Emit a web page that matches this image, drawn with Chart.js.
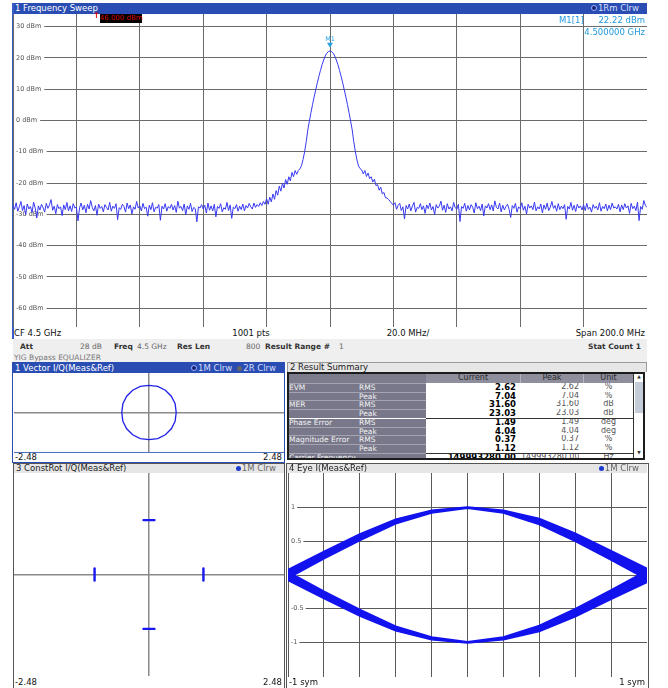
<!DOCTYPE html>
<html>
<head>
<meta charset="utf-8">
<script src="https://cdn.jsdelivr.net/npm/chart.js@4.4.1/dist/chart.umd.min.js"></script>
<style>
body { margin:0; width:668px; height:688px; background:#fff; font-family:"DejaVu Sans", Verdana, sans-serif; position:relative; overflow:hidden; }
.abs { position:absolute; }
.txt { position:absolute; white-space:nowrap; line-height:1; font-size:8.5px; color:#111; }
.b { font-weight:bold; color:#333; font-size:7.5px !important; }
.g { color:#666; font-size:7.5px !important; }
.hdr { position:absolute; height:10px; font-size:8.5px; line-height:10px; white-space:nowrap; overflow:hidden; }
.hdr.blue { background:#2a4db3; color:#fff; }
.hdr.grey { background:#e6e6e6; color:#222; }
.hdr .l { position:absolute; left:2px; top:0; }
.hdr .r { position:absolute; right:8px; top:0; }
.hdr.blue .r { color:#d6defa; }
.hdr.grey .r { color:#666; }
.dot { display:inline-block; width:5px; height:5px; border-radius:50%; margin:0 1px 0 5px; vertical-align:0; }
.dot.nav { background:#16226e; border:1px solid #9fb0ff; width:4px; height:4px; }
.dot.gr { background:#666; }
.dot.bl { background:#1a3ad0; }
canvas { position:absolute; }
.cell { position:absolute; white-space:nowrap; overflow:hidden; font-size:7.5px; line-height:8.75px; }
</style>
</head>
<body>

<!-- panel 1: frequency sweep -->
<div class="hdr blue" style="left:13px;top:3px;width:634px;height:11px;line-height:11px;">
  <span class="l">1 Frequency Sweep</span>
  <span class="r"><span class="dot nav"></span>1Rm Clrw</span>
</div>
<div class="abs" style="left:12px;top:3px;width:1.5px;height:336px;background:#3a5cc6;"></div>
<canvas id="specChart" width="634" height="313" style="left:13px;top:14px;"></canvas>

<div class="txt" style="left:93px;top:12px;color:#e00000;font-weight:bold;font-size:8px;">&#8593;</div>
<div class="abs" style="left:100px;top:14px;width:42px;height:8.5px;background:#000;color:#e00000;font-size:7px;line-height:8.5px;text-align:center;white-space:nowrap;">46.000 dBm</div>

<div class="txt" style="left:559px;top:15.5px;color:#2299dd;">M1[1]</div>
<div class="txt" style="right:23px;top:15.5px;color:#2299dd;">22.22 dBm</div>
<div class="txt" style="right:23px;top:27.5px;color:#2299dd;">4.500000 GHz</div>

<div class="txt" style="left:14px;top:328.5px;">CF 4.5 GHz</div>
<div class="txt" style="left:211px;top:328.5px;width:80px;text-align:center;">1001 pts</div>
<div class="txt" style="left:368px;top:328.5px;width:80px;text-align:center;">20.0 MHz/</div>
<div class="txt" style="right:23px;top:328.5px;">Span 200.0 MHz</div>

<!-- settings band -->
<div class="abs" style="left:13px;top:339px;width:634px;height:23px;background:#efefef;"></div>
<div class="txt b" style="left:20px;top:343px;">Att</div>
<div class="txt g" style="left:80px;top:343px;">28 dB</div>
<div class="txt b" style="left:114px;top:343px;">Freq</div>
<div class="txt g" style="left:137px;top:343px;">4.5 GHz</div>
<div class="txt b" style="left:177px;top:343px;">Res Len</div>
<div class="txt g" style="left:246px;top:343px;">800</div>
<div class="txt b" style="left:265px;top:343px;">Result Range #</div>
<div class="txt g" style="left:339px;top:343px;">1</div>
<div class="txt b" style="right:27px;top:343px;">Stat Count 1</div>
<div class="txt" style="left:14px;top:353.5px;font-size:7.5px;color:#777;">YIG Bypass EQUALIZER</div>

<!-- panel 1 vector -->
<div class="abs" style="left:12px;top:362px;width:271px;height:99px;border:1.5px solid #2a4db3;"></div>
<div class="hdr blue" style="left:13px;top:363px;width:271px;">
  <span class="l">1 Vector I/Q(Meas&amp;Ref)</span>
  <span class="r"><span class="dot nav"></span>1M Clrw<span class="dot gr"></span>2R Clrw</span>
</div>
<canvas id="vecChart" width="270" height="79" style="left:14px;top:373px;"></canvas>
<div class="abs" style="left:14px;top:452px;width:270px;height:1px;background:#5070c0;"></div>
<div class="txt" style="left:15px;top:453px;">-2.48</div>
<div class="txt" style="right:386px;top:453px;">2.48</div>

<!-- panel 2 result summary -->
<div class="hdr grey" style="left:287px;top:362px;width:358px;border:1px solid #999;height:9px;line-height:9px;">
  <span class="l">2 Result Summary</span>
</div>
<div id="sumTable" class="abs" style="left:287px;top:372px;width:360px;height:88px;overflow:hidden;background:#fff;"></div>
<div class="abs" style="left:287px;top:372px;width:358px;height:88px;border:2px solid #1c1c1c;box-sizing:border-box;"></div>

<!-- panel 3 constellation -->
<div class="abs" style="left:13px;top:463px;width:270px;height:224px;border:1px solid #555;"></div>
<div class="hdr grey" style="left:14px;top:464px;width:270px;height:9px;line-height:9px;">
  <span class="l">3 ConstRot I/Q(Meas&amp;Ref)</span>
  <span class="r"><span class="dot bl"></span>1M Clrw</span>
</div>
<canvas id="constChart" width="270" height="203" style="left:14px;top:473px;"></canvas>
<div class="txt" style="left:15px;top:678px;">-2.48</div>
<div class="txt" style="right:386px;top:678px;">2.48</div>

<!-- panel 4 eye -->
<div class="abs" style="left:286px;top:463px;width:361px;height:224px;border:1px solid #555;"></div>
<div class="hdr grey" style="left:287px;top:464px;width:360px;height:9px;line-height:9px;">
  <span class="l">4 Eye I(Meas&amp;Ref)</span>
  <span class="r"><span class="dot bl"></span>1M Clrw</span>
</div>
<canvas id="eyeChart" width="359" height="204" style="left:288px;top:473px;"></canvas>
<div class="txt" style="left:289px;top:678px;">-1 sym</div>
<div class="txt" style="right:23px;top:678px;">1 sym</div>

<script>
// spectrum trace, dBm, 0.5 MHz steps from CF-100 MHz to CF+100 MHz
const specStartMHz = -100;
const specStepMHz = 0.5;
const specLevels = [
  -27.1,-28.4,-26.3,-29.0,-27.6,-25.9,-28.8,-27.2,-30.1,-26.7,-28.3,-27.5,-29.4,-26.1,-28.0,-31.2,-27.3,-28.6,-26.8,-27.9,
  -29.3,-26.5,-28.1,-27.0,-25.3,-28.7,-27.4,-29.8,-26.9,-28.2,-27.6,-30.4,-27.0,-28.5,-26.2,-28.9,-27.3,-29.1,-26.6,-28.0,
  -27.7,-32.1,-27.9,-26.4,-28.6,-27.1,-29.5,-26.8,-28.3,-25.6,-27.8,-28.9,-27.2,-30.3,-26.7,-28.1,-27.5,-29.2,-26.9,-27.8,
  -28.6,-26.2,-29.0,-27.4,-28.1,-26.6,-31.7,-27.9,-28.4,-26.8,-27.5,-29.3,-26.4,-28.2,-27.0,-29.9,-27.6,-28.4,-25.9,-28.0,
  -27.3,-28.9,-26.5,-28.2,-27.7,-30.6,-27.1,-28.5,-26.3,-29.2,-27.8,-28.0,-26.9,-31.9,-27.4,-28.3,-26.6,-29.0,-27.5,-28.1,
  -26.8,-28.6,-27.2,-29.4,-25.8,-28.0,-27.5,-28.8,-26.7,-30.2,-27.3,-28.4,-26.5,-29.1,-27.8,-28.2,-32.4,-27.6,-28.0,-26.9,
  -28.3,-27.1,-29.6,-26.4,-28.7,-27.3,-28.9,-26.8,-30.8,-27.5,-28.1,-26.6,-29.2,-27.9,-28.4,-26.2,-28.8,-27.0,-31.3,-27.7,
  -28.2,-26.9,-29.0,-27.4,-28.5,-26.7,-28.9,-27.2,-28.0,-26.5,-27.6,-28.3,-26.4,-27.8,-26.9,-27.5,-26.3,-27.2,-25.9,-26.8,
  -25.0,-26.8,-24.5,-26.0,-23.5,-25.2,-22.4,-23.9,-21.0,-22.6,-20.1,-21.6,-18.9,-20.4,-18.0,-19.3,-16.6,-18.0,-16.0,-17.2,
  -16.0,-15.5,-14.5,-12.5,-10.0,-6.8,-3.0,-0.2,2.5,5.1,7.5,9.8,12.0,14.1,16.0,17.8,19.3,20.6,21.5,22.0,
  22.2,22.0,21.5,20.6,19.3,17.8,16.0,14.1,12.0,9.8,7.5,5.1,2.5,-0.2,-3.0,-6.8,-10.0,-12.6,-14.6,-15.4,
  -15.8,-17.1,-16.0,-17.9,-16.8,-18.6,-18.0,-19.7,-18.8,-20.8,-20.5,-22.3,-21.3,-23.5,-23.0,-24.7,-24.8,-25.3,-25.9,-26.6,
  -27.0,-26.3,-28.4,-27.1,-26.5,-28.8,-27.6,-31.5,-27.2,-28.3,-26.7,-28.9,-27.4,-26.2,-29.3,-27.8,-28.1,-26.6,-28.5,-27.3,
  -29.7,-27.0,-28.2,-26.4,-28.6,-27.5,-30.1,-26.9,-28.0,-27.3,-25.8,-28.7,-27.1,-29.4,-26.6,-28.3,-27.6,-28.9,-26.2,-27.9,
  -28.4,-26.8,-32.3,-27.5,-28.1,-26.5,-29.0,-27.2,-28.6,-26.9,-27.7,-29.6,-26.3,-28.2,-27.4,-28.8,-26.7,-30.5,-27.3,-28.0,
  -26.6,-28.5,-27.0,-28.9,-25.7,-27.8,-28.3,-26.4,-29.2,-27.1,-28.6,-27.5,-26.8,-28.4,-31.0,-27.2,-28.1,-26.5,-29.3,-27.6,
  -28.2,-26.3,-28.7,-27.4,-29.9,-26.8,-28.0,-27.3,-28.5,-26.1,-28.9,-27.6,-28.3,-26.7,-29.5,-27.0,-28.4,-26.4,-28.8,-27.7,
  -25.9,-28.1,-27.2,-29.0,-26.6,-28.5,-27.4,-28.2,-26.9,-31.6,-27.5,-28.3,-26.2,-28.7,-27.1,-29.1,-26.8,-28.0,-27.3,-28.6,
  -27.0,-28.8,-26.5,-28.4,-27.7,-29.3,-26.9,-28.1,-27.4,-28.6,-26.3,-29.0,-27.5,-28.2,-26.7,-28.9,-27.1,-28.5,-26.4,-28.0,
  -27.6,-28.3,-26.8,-29.2,-27.0,-28.5,-26.6,-28.0,-27.3,-29.7,-26.5,-28.2,-27.4,-28.8,-26.1,-32.0,-27.5,-28.4,-25.6,-27.2,
  -27.8
];
const specXTicks = [-100, -80, -60, -40, -20, 0, 20, 40, 60, 80, 100];
const specYTicks = [30, 20, 10, 0, -10, -20, -30, -40, -50, -60];
const markerFreq = 0;
const markerLevel = 22.22;

// vector I/Q trajectory (polygon vertices)
const vecI = [0.50, 0.48, 0.41, 0.30, 0.16, 0.00, -0.16, -0.30, -0.41, -0.48, -0.50, -0.48, -0.41, -0.30, -0.16, 0.00, 0.16, 0.30, 0.41, 0.48, 0.50];
const vecQ = [0.00, 0.16, 0.30, 0.41, 0.48, 0.50, 0.48, 0.41, 0.30, 0.16, 0.00, -0.16, -0.30, -0.41, -0.48, -0.50, -0.48, -0.41, -0.30, -0.16, 0.00];

// rotated constellation clusters, 9 symbols each (top, bottom, left, right)
const constCluster = ['top', 'bottom', 'left', 'right'];
const constI = [-0.10, -0.075, -0.05, -0.025, 0.00, 0.025, 0.05, 0.075, 0.10,
                -0.10, -0.075, -0.05, -0.025, 0.00, 0.025, 0.05, 0.075, 0.10,
                -1.00, -1.00, -1.00, -1.00, -1.00, -1.00, -1.00, -1.00, -1.00,
                 1.00, 1.00, 1.00, 1.00, 1.00, 1.00, 1.00, 1.00, 1.00];
const constQ = [ 1.00, 1.00, 1.00, 1.00, 1.00, 1.00, 1.00, 1.00, 1.00,
                -1.00, -1.00, -1.00, -1.00, -1.00, -1.00, -1.00, -1.00, -1.00,
                -0.11, -0.08, -0.055, -0.03, 0.00, 0.03, 0.055, 0.08, 0.11,
                -0.11, -0.08, -0.055, -0.03, 0.00, 0.03, 0.055, 0.08, 0.11];

// eye diagram band edges
const eyeT    = [-1, -0.8, -0.6, -0.4, -0.2, 0, 0.2, 0.4, 0.6, 0.8, 1];
const eyeUpHi = [0.08, 0.35, 0.61, 0.83, 0.96, 1.01, 0.96, 0.84, 0.62, 0.36, 0.10];
const eyeUpLo = [-0.05, 0.24, 0.51, 0.76, 0.92, 0.99, 0.92, 0.75, 0.50, 0.22, -0.07];
const eyeDnHi = [0.05, -0.24, -0.51, -0.76, -0.92, -0.99, -0.92, -0.75, -0.50, -0.22, 0.07];
const eyeDnLo = [-0.08, -0.35, -0.61, -0.83, -0.96, -1.01, -0.96, -0.84, -0.62, -0.36, -0.11];
const eyeXTicks = [-1, -0.8, -0.6, -0.4, -0.2, 0, 0.2, 0.4, 0.6, 0.8, 1];
const eyeYTicks = [1, 0.5, 0, -0.5, -1];

// result summary
const sumGroup   = ['EVM', '', 'MER', '', 'Phase Error', '', 'Magnitude Error', '', 'Carrier Frequency Error'];
const sumType    = ['RMS', 'Peak', 'RMS', 'Peak', 'RMS', 'Peak', 'RMS', 'Peak', ''];
const sumCurrent = ['2.62', '7.04', '31.60', '23.03', '1.49', '4.04', '0.37', '1.12', '149993280.00'];
const sumPeak    = ['2.62', '7.04', '31.60', '23.03', '1.49', '4.04', '0.37', '1.12', '149993280.00'];
const sumUnit    = ['%', '%', 'dB', 'dB', 'deg', 'deg', '%', '%', 'Hz'];

const toXY = (xs, ys) => xs.map((x, i) => ({ x, y: ys[i] }));

function axis(min, max, ticks, color, width) {
    return {
        type: 'linear', min, max,
        afterBuildTicks: s => { s.ticks = ticks.map(v => ({ value: v })); },
        grid: { color, lineWidth: width, drawTicks: false },
        border: { display: false },
        ticks: { display: false }
    };
}

/* labels drawn inside the plot, left side, over a white patch */
const insideLabels = {
    id: 'insideLabels',
    beforeDatasetsDraw(chart, args, opts) {
        if (!opts.values) return;
        const { ctx, chartArea, scales } = chart;
        ctx.save();
        ctx.font = opts.font;
        ctx.textBaseline = 'middle';
        opts.values.forEach(v => {
            const py = scales.y.getPixelForValue(v);
            const label = opts.format(v);
            const w = ctx.measureText(label).width;
            ctx.fillStyle = '#fff';
            ctx.fillRect(chartArea.left + 1, py - 3.5, w + opts.gap, 7);
            ctx.fillStyle = opts.color;
            ctx.fillText(label, chartArea.left + 3, py);
        });
        ctx.restore();
    }
};

const markerPlugin = {
    id: 'markerPlugin',
    afterDatasetsDraw(chart) {
        const { ctx, scales } = chart;
        const px = scales.x.getPixelForValue(markerFreq);
        const py = scales.y.getPixelForValue(markerLevel);
        ctx.save();
        ctx.fillStyle = '#2a9fe0';
        ctx.beginPath();
        ctx.moveTo(px - 3, py - 8);
        ctx.lineTo(px + 3, py - 8);
        ctx.lineTo(px, py - 3);
        ctx.closePath();
        ctx.fill();
        ctx.font = '6.5px "DejaVu Sans"';
        ctx.textAlign = 'center';
        ctx.textBaseline = 'bottom';
        ctx.fillText('M1', px, py - 8);
        ctx.restore();
    }
};

const common = {
    responsive: false,
    animation: false,
    devicePixelRatio: 1,
    layout: { padding: 0, autoPadding: false },
    events: []
};

new Chart(document.getElementById('specChart'), {
    type: 'line',
    data: {
        datasets: [{
            data: specLevels.map((v, i) => ({ x: specStartMHz + i * specStepMHz, y: v })),
            borderColor: '#3838f2',
            borderWidth: 1,
            pointRadius: 0,
            tension: 0
        }]
    },
    options: {
        ...common,
        parsing: false,
        scales: {
            x: axis(-100, 100, specXTicks, '#6a6a6a', 1),
            y: axis(-66, 34, specYTicks, '#6a6a6a', 1)
        },
        plugins: {
            legend: { display: false }, tooltip: { enabled: false },
            insideLabels: { values: specYTicks, font: '6.5px "DejaVu Sans"', color: '#555', gap: 5, format: v => v + ' dBm' }
        }
    },
    plugins: [insideLabels, markerPlugin]
});

new Chart(document.getElementById('vecChart'), {
    type: 'scatter',
    data: {
        datasets: [{
            data: toXY(vecI, vecQ),
            showLine: true,
            borderColor: '#2020e8',
            borderWidth: 1.3,
            pointRadius: 0
        }]
    },
    options: {
        ...common,
        scales: {
            x: axis(-2.48, 2.48, [0], '#8a8a8a', 1.5),
            y: axis(-0.726, 0.726, [0], '#8a8a8a', 1.5)
        },
        plugins: { legend: { display: false }, tooltip: { enabled: false } }
    }
});

// each cluster: symbols smeared tangentially, drawn as a short thick stroke
const constPts = toXY(constI, constQ);
new Chart(document.getElementById('constChart'), {
    type: 'scatter',
    data: {
        datasets: constCluster.map((name, k) => ({
            label: name,
            data: constPts.slice(k * 9, k * 9 + 9),
            showLine: true,
            borderColor: '#1616f0',
            backgroundColor: '#1616f0',
            borderWidth: 2.4,
            borderCapStyle: 'round',
            pointRadius: 0
        }))
    },
    options: {
        ...common,
        scales: {
            x: axis(-2.48, 2.48, [0], '#8a8a8a', 1.5),
            y: axis(-1.866, 1.866, [0], '#8a8a8a', 1.5)
        },
        plugins: { legend: { display: false }, tooltip: { enabled: false } }
    }
});

const eyeBand = (ys, fill) => ({
    data: toXY(eyeT, ys),
    showLine: true,
    borderColor: '#1212ee',
    backgroundColor: '#1212ee',
    borderWidth: 1.5,
    pointRadius: 0,
    tension: 0,
    fill
});

new Chart(document.getElementById('eyeChart'), {
    type: 'scatter',
    data: {
        datasets: [
            eyeBand(eyeUpLo, false),
            eyeBand(eyeUpHi, '-1'),
            eyeBand(eyeDnHi, false),
            eyeBand(eyeDnLo, '-1')
        ]
    },
    options: {
        ...common,
        scales: {
            x: axis(-1, 1, eyeXTicks, '#5a5a5a', 1),
            y: axis(-1.515, 1.515, eyeYTicks, '#5a5a5a', 1)
        },
        plugins: {
            legend: { display: false }, tooltip: { enabled: false },
            insideLabels: { values: eyeYTicks, font: '6.5px "DejaVu Sans"', color: '#555', gap: 4, format: v => String(v) }
        }
    },
    plugins: [insideLabels]
});

/* -------- RESULT SUMMARY TABLE -------- */
const tbl = document.getElementById('sumTable');
function cell(html, style) {
    const d = document.createElement('div');
    d.className = 'cell';
    d.style.cssText = style;
    d.innerHTML = html;
    tbl.appendChild(d);
}
// header row
cell('', 'left:0;top:0;width:139px;height:10.8px;background:#7c7c8c;');
cell('Current', 'left:139px;top:0;width:95px;height:10.8px;background:#8e8e9c;color:#2a2a2a;text-align:center;line-height:11px;font-size:8px;border-right:1px solid #b4b4c0;box-sizing:border-box;');
cell('Peak', 'left:234px;top:0;width:63px;height:10.8px;background:#8e8e9c;color:#2a2a2a;text-align:center;line-height:11px;font-size:8px;border-right:1px solid #b4b4c0;box-sizing:border-box;');
cell('Unit', 'left:297px;top:0;width:49px;height:10.8px;background:#8e8e9c;color:#2a2a2a;text-align:center;line-height:11px;font-size:8px;');

sumGroup.forEach((g, i) => {
    const top = 10.8 + i * 8.75;
    cell(g, `left:0;top:${top}px;width:71px;height:8.75px;background:#78788a;color:#f2f2f2;padding-left:2px;border-top:1px solid #a4a4b2;box-sizing:border-box;`);
    cell(sumType[i], `left:71px;top:${top}px;width:68px;height:8.75px;background:#78788a;color:#f2f2f2;padding-left:1px;border-top:1px solid #a4a4b2;box-sizing:border-box;`);
    cell(sumCurrent[i], `left:139px;top:${top}px;width:90px;text-align:right;font-weight:bold;font-size:8.5px;color:#000;`);
    cell(sumPeak[i], `left:234px;top:${top}px;width:58px;text-align:right;font-size:8px;color:#555;`);
    cell(sumUnit[i], `left:297px;top:${top}px;width:49px;text-align:center;font-size:8px;color:#555;`);
});
// group separators
cell('', `left:0;top:${10.8 + 4 * 8.75}px;width:139px;height:1px;background:#fff;`);
cell('', `left:139px;top:${10.8 + 4 * 8.75}px;width:207px;height:1px;background:#333;`);
cell('', `left:139px;top:${10.8 + 8 * 8.75}px;width:207px;height:1px;background:#333;`);
// scrollbar
cell('', 'left:346px;top:0;width:12px;height:88px;background:#fff;border-left:1px solid #333;box-sizing:border-box;');
cell('&#9650;', 'left:346px;top:1px;width:12px;text-align:center;font-size:4.5px;line-height:8px;color:#333;');
cell('', 'left:348px;top:10px;width:9px;height:31px;background:#c4ccd8;');
cell('&#9660;', 'left:346px;top:77px;width:12px;text-align:center;font-size:4.5px;line-height:8px;color:#333;');
</script>
</body>
</html>
